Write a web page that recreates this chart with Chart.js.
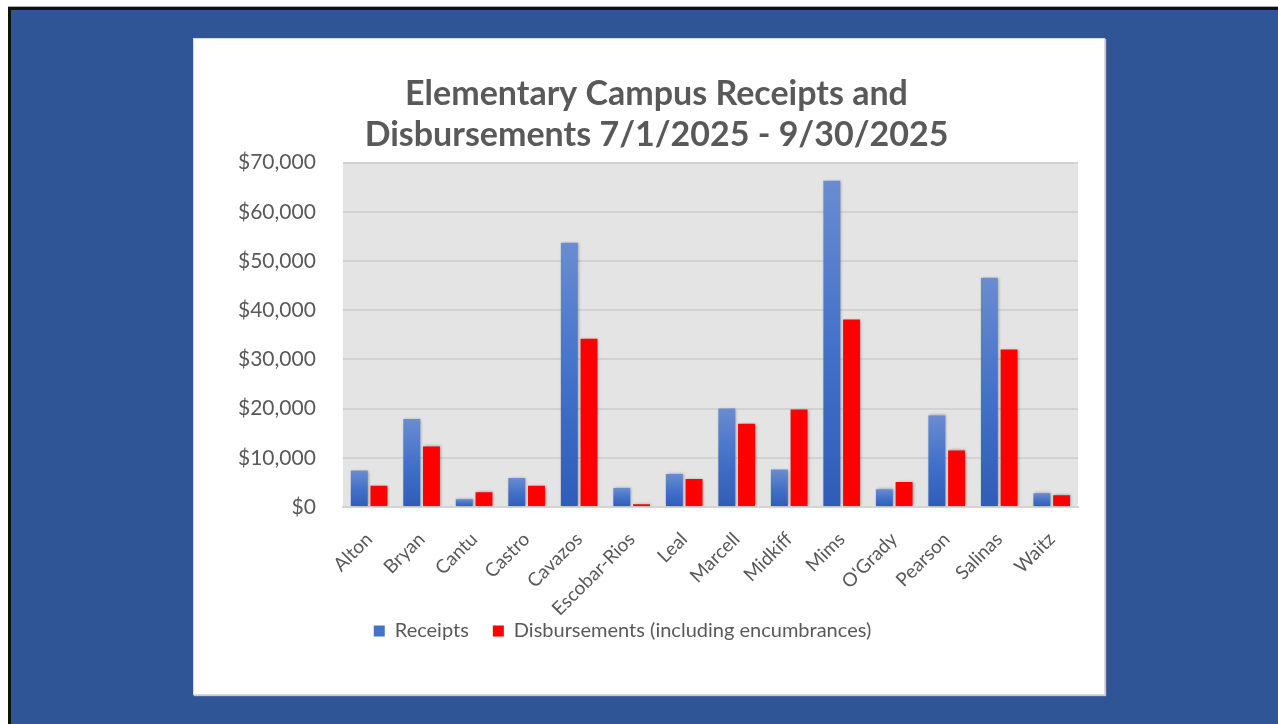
<!DOCTYPE html>
<html>
<head>
<meta charset="utf-8">
<script src="https://cdn.jsdelivr.net/npm/chart.js@4.4.1/dist/chart.umd.min.js"></script>
<style>
  html, body { margin: 0; padding: 0; width: 1278px; height: 724px; overflow: hidden; background: #fff; }
  .slide {
    position: absolute; left: 8px; top: 7px; width: 1270px; height: 717px;
    background: #2F5597; border-left: 3px solid #111; border-top: 3px solid #111;
    box-shadow: 0 -1px 0 #aaa;
  }
  .box {
    position: absolute; left: 193px; top: 38px; width: 910px; height: 655px;
    background: #fff; border: 1px solid #d9d9d9; box-shadow: 1px 1px 1px #c8c8c8;
  }
  canvas { display: block; }
</style>
</head>
<body>
<div class="slide"></div>
<div class="box"><canvas id="campusChart" width="910" height="655"></canvas></div>
<script>
const campuses = ['Alton', 'Bryan', 'Cantu', 'Castro', 'Cavazos', 'Escobar-Rios', 'Leal',
  'Marcell', 'Midkiff', 'Mims', "O'Grady", 'Pearson', 'Salinas', 'Waitz'];
const receipts = [7400, 17900, 1600, 5900, 53700, 3850, 6700, 20000, 7600, 66300, 3600, 18600, 46600, 2800];
const disbursements = [4300, 12300, 3000, 4300, 34200, 550, 5700, 16900, 19800, 38100, 5100, 11500, 32000, 2400];
const yTicks = [0, 10000, 20000, 30000, 40000, 50000, 60000, 70000];

// fondo gris del área de trazado
const plotBg = {
  id: 'plotBg',
  beforeDraw(chart) {
    const a = chart.chartArea, c = chart.ctx;
    c.save();
    c.fillStyle = '#E4E4E4';
    c.fillRect(a.left, a.top, a.right - a.left, a.bottom - a.top);
    c.restore();
    // las etiquetas del eje x pueden salir de su caja
    chart.scales.x._computeLabelArea = () => undefined;
  }
};

// sombra ligera de las barras
const barShadow = {
  id: 'barShadow',
  beforeDatasetsDraw(chart) {
    const c = chart.ctx;
    c.save();
    c.shadowColor = 'rgba(0,0,0,0.35)';
    c.shadowBlur = 3;
    c.shadowOffsetX = 1;
    c.shadowOffsetY = 0;
  },
  afterDatasetsDraw(chart) { chart.ctx.restore(); }
};

// el título y la leyenda no están centrados sobre el lienzo en el original
const shiftBoxes = {
  id: 'shiftBoxes',
  afterLayout(chart) {
    if (chart.titleBlock) { chart.titleBlock.left += 12; chart.titleBlock.right += 12; }
    if (chart.legend) { chart.legend.left -= 22; chart.legend.right -= 22; }
  }
};

function blueGradient(context) {
  const chart = context.chart;
  if (!chart.chartArea || context.type !== 'data') return '#4472C4';
  const y = chart.scales.y;
  const top = y.getPixelForValue(context.raw);
  const bottom = y.getPixelForValue(0);
  const g = chart.ctx.createLinearGradient(0, top, 0, bottom);
  g.addColorStop(0, '#6A8CD0');
  g.addColorStop(0.5, '#4472C9');
  g.addColorStop(1, '#2E5CB8');
  return g;
}

const ctx = document.getElementById('campusChart').getContext('2d');
new Chart(ctx, {
  type: 'bar',
  data: {
    labels: campuses,
    datasets: [{
      label: 'Receipts',
      data: receipts,
      backgroundColor: blueGradient,
      barPercentage: 0.86,
      categoryPercentage: 0.75
    }, {
      label: 'Disbursements (including encumbrances)',
      data: disbursements,
      backgroundColor: '#FF0000',
      barPercentage: 0.86,
      categoryPercentage: 0.75
    }]
  },
  options: {
    responsive: false,
    animation: false,
    layout: { padding: { left: 17, right: 26, top: 35, bottom: 43 } },
    plugins: {
      title: {
        display: true,
        text: ['Elementary Campus Receipts and', 'Disbursements 7/1/2025 - 9/30/2025'],
        color: '#595959',
        font: { family: 'Lato', size: 34, weight: 'bold', lineHeight: 1.2 },
        padding: { top: 0, bottom: 7 }
      },
      legend: {
        position: 'bottom',
        labels: {
          color: '#595959',
          font: { family: 'Lato', size: 20 },
          boxWidth: 11, boxHeight: 11,
          padding: 24,
          generateLabels(chart) {
            return chart.data.datasets.map((ds, i) => ({
              text: ds.label,
              fillStyle: i === 0 ? '#4472C4' : '#FF0000',
              strokeStyle: 'transparent',
              lineWidth: 0,
              datasetIndex: i,
              fontColor: '#595959'
            }));
          }
        }
      },
      tooltip: { enabled: false }
    },
    scales: {
      x: {
        grid: { display: false },
        border: { color: '#D4D4D4', width: 2 },
        afterFit(axis) { axis.height = 90; },
        ticks: {
          color: '#595959',
          font: { family: 'Lato', size: 19 },
          minRotation: 45, maxRotation: 45,
          autoSkip: false,
          padding: 13
        }
      },
      y: {
        min: 0, max: 70000,
        afterBuildTicks(axis) { axis.ticks = yTicks.map(v => ({ value: v })); },
        grid: { color: '#D2D2D2', lineWidth: 2, drawTicks: false },
        border: { display: false },
        ticks: {
          color: '#595959',
          font: { family: 'Lato', size: 21 },
          padding: 27,
          callback: v => '$' + v.toLocaleString('en-US')
        }
      }
    }
  },
  plugins: [plotBg, barShadow, shiftBoxes]
});
</script>
</body>
</html>
